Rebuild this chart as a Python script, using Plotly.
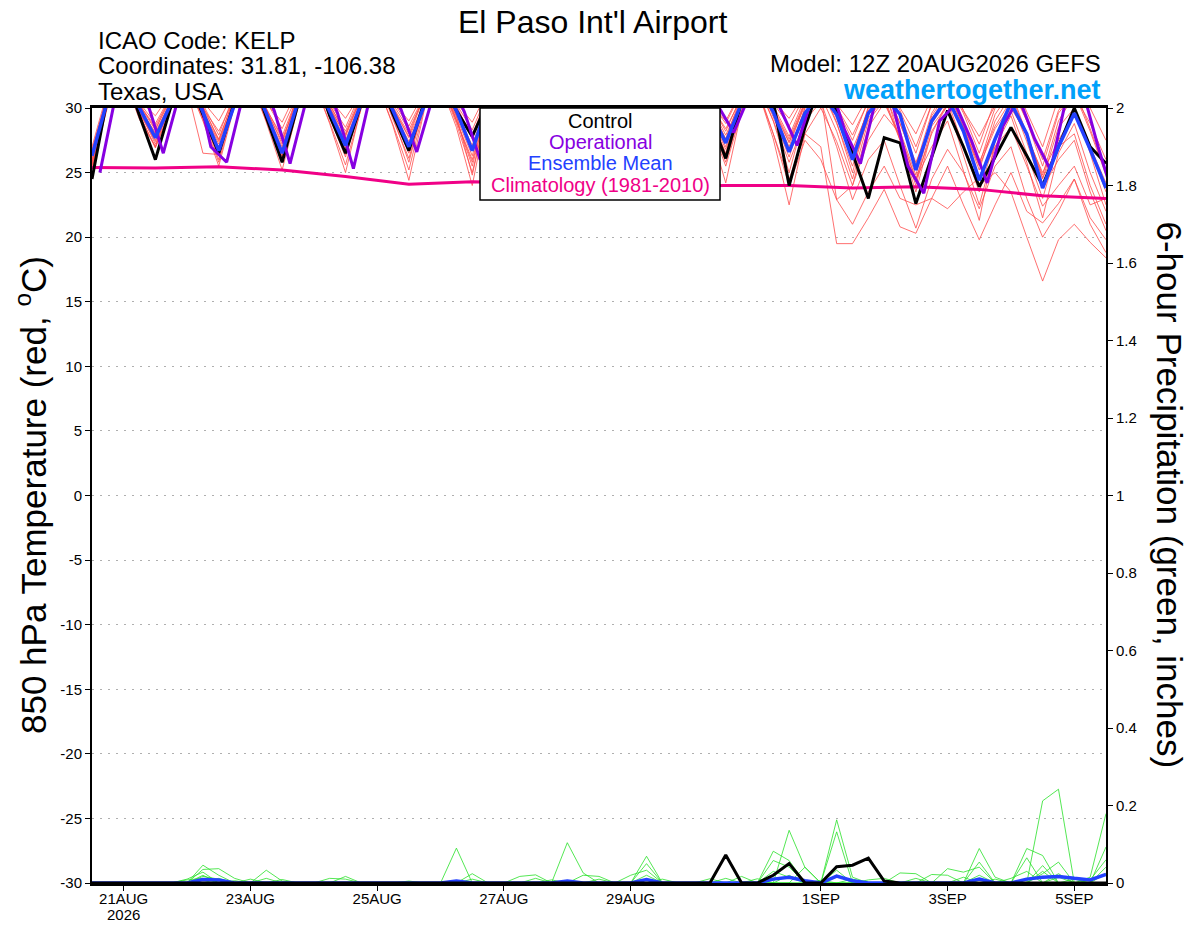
import pandas as pd
import plotly.graph_objects as go

# GEFS 12Z 20AUG2026, 6-hourly steps out to 16 days
times = pd.date_range("2026-08-20 12:00", periods=65, freq="6h")
times_oper = pd.date_range("2026-08-20 15:00", periods=65, freq="6h")  # operational run is offset by 3h
times_clim = pd.date_range("2026-08-20 12:00", periods=17, freq="D")

tick_dates = ["2026-08-21", "2026-08-23", "2026-08-25", "2026-08-27",
              "2026-08-29", "2026-09-01", "2026-09-03", "2026-09-05"]
tick_labels = ["21AUG", "23AUG", "25AUG", "27AUG", "29AUG", "1SEP", "3SEP", "5SEP"]
year_label = "2026"
temp_ticks = [-30, -25, -20, -15, -10, -5, 0, 5, 10, 15, 20, 25, 30]
precip_ticks = [0, 0.2, 0.4, 0.6, 0.8, 1, 1.2, 1.4, 1.6, 1.8, 2]

# 850 hPa temperature (C)
t_control = [
    24.5, 31.0, 33.0, 29.4, 26.0, 30.2, 32.5, 29.5, 26.5, 30.5, 32.8, 29.3, 25.8,
    30.3, 33.0, 29.4, 26.5, 30.4, 32.6, 29.5, 26.7, 30.6, 32.5, 29.8, 27.8, 30.5, 32.4, 29.5, 26.8,
    30.6, 32.6, 29.4, 26.5, 30.4, 32.5, 29.6, 26.6, 30.5, 32.2, 29.3, 26.1, 30.5, 32.5, 30.5, 24.0,
    28.5, 32.0, 29.8, 26.5, 23.0, 27.7, 27.3, 22.6, 26.2, 29.8, 27.0, 23.9, 26.2, 28.5, 26.3, 24.0,
    27.0, 30.0, 27.0, 25.7,
]
t_oper = [
    25.0, 31.0, 32.8, 30.4, 26.5, 31.0, 32.5, 27.0, 25.8, 30.8, 32.6, 29.8, 25.7,
    30.5, 32.8, 29.6, 25.3, 30.6, 32.5, 29.9, 26.6, 30.8, 32.4, 29.7, 26.0, 30.6, 32.6, 29.8, 26.5,
    30.5, 32.5, 29.9, 26.4, 30.6, 32.4, 29.6, 26.8, 30.7, 32.6, 30.2, 28.1, 31.0, 32.5, 29.8, 27.1,
    31.0, 32.2, 28.3, 25.7, 30.8, 30.5, 25.5, 23.4, 29.0, 30.3, 27.5, 24.2, 28.6, 30.8, 27.6, 25.2,
    30.8, 31.5, 27.0, 23.0,
]
t_mean = [
    26.3, 30.7, 32.5, 30.0, 27.7, 30.4, 32.3, 29.7, 26.7, 30.3, 32.4, 29.6, 26.5,
    30.5, 32.4, 29.8, 27.1, 30.4, 32.3, 29.8, 27.0, 30.3, 32.2, 29.8, 26.7, 30.4, 32.1, 29.8, 27.0,
    30.3, 32.0, 29.7, 27.0, 30.4, 32.1, 29.8, 27.1, 30.4, 32.0, 29.8, 27.3, 30.4, 31.9, 29.7, 26.6,
    29.6, 31.2, 29.5, 26.0, 29.6, 31.0, 29.5, 25.2, 29.0, 30.8, 28.2, 24.4, 27.6, 30.4, 28.0, 23.8,
    27.0, 29.6, 26.8, 23.8,
]
t_clim = [25.4, 25.35, 25.45, 25.2, 24.7, 24.1, 24.3, 24.2, 24.0,
          23.95, 24.0, 24.0, 23.8, 23.9, 23.7, 23.2, 23.0]

t_mem01 = [
    25.8, 30.6, 32.6, 29.8, 27.2, 30.2, 32.4, 29.4, 26.0, 30.6, 32.8, 29.2, 25.8,
    30.4, 32.5, 29.6, 26.4, 30.1, 32.2, 29.3, 25.8, 30.5, 32.4, 29.1, 25.5, 30.3, 32.0, 29.5, 26.5,
    30.6, 32.3, 29.7, 26.8, 30.2, 32.1, 29.2, 26.0, 30.4, 32.5, 29.4, 26.5, 30.1, 31.8, 29.0, 25.0,
    29.5, 31.0, 28.2, 24.5, 29.0, 30.6, 27.5, 23.5, 28.2, 30.2, 26.4, 22.5, 27.0, 29.4, 25.8, 21.5,
    26.5, 28.8, 25.0, 22.0,
]
t_mem02 = [
    26.8, 31.0, 33.2, 30.2, 28.3, 30.8, 32.8, 30.1, 27.5, 30.9, 33.0, 29.9, 27.2,
    31.1, 33.1, 30.3, 28.0, 30.9, 32.9, 30.0, 27.8, 31.0, 32.8, 30.2, 27.6, 31.2, 33.0, 30.3, 27.8,
    30.8, 32.7, 29.9, 27.5, 31.0, 32.9, 30.1, 27.9, 31.1, 33.0, 30.4, 28.2, 31.0, 32.8, 30.2, 27.8,
    30.8, 32.5, 30.0, 27.5, 30.6, 32.4, 29.8, 27.0, 30.3, 32.0, 29.6, 26.5, 30.0, 31.6, 29.0, 25.5,
    29.6, 31.2, 28.2, 24.8,
]
t_mem03 = [
    25.2, 30.3, 32.3, 29.5, 26.9, 30.0, 32.0, 29.0, 25.5, 30.2, 32.2, 28.9, 25.2,
    30.0, 32.1, 28.8, 25.0, 30.1, 31.9, 28.6, 24.4, 30.0, 31.8, 28.5, 24.0, 30.2, 32.0, 28.9, 25.0,
    30.4, 32.2, 29.0, 25.5, 30.2, 32.0, 29.1, 25.3, 30.0, 31.9, 28.4, 24.2, 29.8, 31.5, 27.6, 22.5,
    28.0, 30.0, 27.4, 24.0, 28.5, 30.4, 27.8, 24.5, 27.0, 29.0, 25.2, 21.3, 27.5, 30.0, 28.0, 24.8,
    29.0, 31.0, 28.8, 26.0,
]
t_mem04 = [
    26.5, 31.2, 33.4, 30.4, 28.8, 31.0, 33.2, 30.3, 27.9, 31.2, 33.3, 30.5, 28.4,
    31.1, 33.2, 30.4, 28.5, 31.3, 33.4, 30.5, 28.6, 31.0, 33.1, 30.3, 28.3, 31.2, 33.3, 30.6, 28.6,
    31.3, 33.2, 30.5, 28.7, 31.4, 33.3, 30.6, 28.9, 31.2, 33.2, 30.5, 28.8, 31.3, 33.1, 30.4, 28.6,
    31.0, 32.8, 30.1, 27.9, 30.5, 32.2, 29.4, 26.5, 30.3, 32.4, 29.8, 27.2, 30.6, 32.6, 29.7, 27.0,
    30.8, 32.5, 30.0, 27.5,
]
t_mem05 = [
    25.6, 30.4, 32.4, 29.7, 27.5, 30.3, 32.3, 29.4, 26.4, 30.1, 32.1, 29.0, 26.0,
    30.5, 32.6, 29.8, 26.9, 30.2, 32.2, 29.5, 26.5, 30.2, 32.0, 28.8, 25.0, 30.1, 32.1, 29.2, 26.2,
    30.0, 31.9, 29.0, 26.0, 30.3, 32.2, 29.5, 26.6, 30.1, 31.8, 28.8, 25.5, 29.7, 31.4, 28.0, 24.5,
    28.0, 27.0, 19.5, 19.5, 21.5, 23.7, 20.8, 20.3, 23.0, 25.5, 22.5, 19.8, 22.5, 25.0, 22.0, 21.1,
    22.6, 24.5, 21.5, 19.8,
]
t_mem06 = [
    27.0, 31.4, 33.5, 30.6, 29.4, 31.2, 33.4, 30.5, 29.0, 31.3, 33.3, 30.4, 28.9,
    31.5, 33.5, 30.7, 29.2, 31.2, 33.2, 30.5, 29.0, 31.3, 33.4, 30.4, 28.9, 31.4, 33.3, 30.6, 29.2,
    31.2, 33.1, 30.5, 29.0, 31.5, 33.4, 30.8, 29.3, 31.3, 33.2, 30.4, 29.0, 31.4, 33.3, 30.6, 29.2,
    31.2, 33.0, 30.3, 28.7, 31.0, 32.8, 30.0, 28.0, 30.8, 32.6, 29.8, 27.8, 30.2, 32.0, 29.0, 26.0,
    29.8, 31.5, 28.4, 25.0,
]
t_mem07 = [
    25.9, 30.7, 32.8, 29.9, 27.8, 30.5, 32.5, 29.6, 26.9, 30.4, 32.6, 29.5, 26.8,
    30.8, 32.9, 30.0, 27.5, 30.6, 32.7, 29.8, 27.4, 30.4, 32.5, 29.5, 26.8, 30.5, 32.6, 29.7, 27.0,
    30.6, 32.4, 29.8, 27.2, 30.7, 32.7, 29.9, 27.4, 30.8, 32.8, 30.0, 27.6, 30.4, 32.2, 29.3, 26.2,
    30.0, 31.6, 28.8, 25.5, 29.2, 30.8, 27.6, 24.0, 28.6, 30.2, 27.0, 24.0, 25.0, 23.5, 20.0, 16.6,
    19.8, 21.0, 19.6, 18.4,
]
t_mem08 = [
    26.0, 30.8, 32.9, 30.1, 28.0, 30.6, 32.7, 29.8, 27.2, 30.7, 32.8, 30.0, 27.6,
    30.6, 32.8, 30.1, 27.8, 30.8, 32.9, 30.0, 27.7, 30.5, 32.6, 29.7, 27.1, 30.7, 32.7, 29.9, 27.4,
    30.8, 32.8, 30.0, 27.6, 30.5, 32.5, 29.7, 27.1, 30.9, 32.9, 30.2, 27.9, 30.6, 32.5, 29.8, 27.0,
    30.4, 32.2, 29.6, 26.8, 29.8, 31.6, 28.8, 25.8, 28.8, 30.6, 27.0, 23.5, 27.5, 29.8, 26.5, 23.0,
    27.2, 29.5, 26.8, 23.5,
]
t_mem09 = [
    25.5, 30.5, 32.5, 29.6, 27.4, 30.2, 32.2, 29.3, 26.3, 30.3, 32.4, 29.2, 26.2,
    30.4, 32.5, 29.5, 26.7, 30.2, 32.3, 29.1, 26.1, 30.3, 32.2, 29.0, 26.0, 30.4, 32.4, 29.6, 26.8,
    30.3, 32.3, 29.4, 26.4, 30.2, 32.2, 29.3, 26.3, 30.5, 32.4, 29.5, 26.8, 30.2, 32.0, 29.0, 25.8,
    29.0, 30.5, 27.0, 22.9, 26.0, 27.5, 24.0, 20.7, 24.5, 26.8, 25.0, 22.2, 25.5, 27.0, 23.0, 20.0,
    22.0, 24.5, 21.0, 18.8,
]
t_mem10 = [
    26.2, 31.0, 33.0, 30.2, 28.6, 30.9, 33.0, 30.0, 28.2, 30.8, 32.9, 29.9, 27.8,
    31.0, 33.1, 30.2, 28.2, 31.1, 33.0, 30.3, 28.3, 30.9, 32.9, 30.0, 27.9, 31.0, 33.0, 30.2, 28.2,
    31.1, 33.1, 30.3, 28.3, 31.2, 33.2, 30.4, 28.5, 31.0, 33.0, 30.3, 28.4, 30.8, 32.7, 29.9, 27.4,
    30.4, 32.2, 29.4, 26.4, 30.0, 31.8, 28.8, 25.6, 29.6, 31.5, 28.5, 25.2, 29.0, 31.0, 28.0, 24.6,
    27.0, 28.0, 24.0, 21.0,
]
t_mem11 = [
    25.3, 30.2, 32.2, 29.4, 27.0, 30.0, 32.1, 29.1, 25.8, 30.3, 32.3, 29.3, 26.3,
    30.1, 32.0, 28.9, 25.6, 30.0, 31.9, 28.7, 25.2, 30.2, 32.1, 29.0, 25.8, 30.1, 32.0, 28.9, 25.8,
    30.3, 32.2, 29.2, 26.2, 30.1, 32.0, 28.9, 25.8, 30.2, 32.1, 29.0, 25.8, 29.9, 31.6, 28.0, 24.0,
    27.5, 26.0, 22.9, 21.0, 23.5, 25.5, 23.0, 22.5, 23.0, 22.2, 23.5, 24.6, 27.0, 28.5, 25.5, 22.4,
    24.0, 25.5, 22.5, 23.0,
]
t_mem12 = [
    26.4, 30.8, 32.7, 30.0, 28.1, 30.6, 32.6, 29.8, 27.4, 30.5, 32.5, 29.6, 27.0,
    30.7, 32.6, 29.8, 27.3, 30.6, 32.5, 29.7, 27.1, 30.4, 32.3, 29.3, 26.3, 30.8, 32.8, 30.0, 27.6,
    30.9, 32.9, 30.1, 27.8, 30.8, 32.8, 30.0, 27.7, 30.6, 32.5, 29.7, 27.0, 30.5, 32.4, 29.6, 26.6,
    30.0, 31.8, 28.9, 25.0, 29.5, 31.2, 28.2, 24.8, 29.4, 31.2, 28.6, 25.8, 28.6, 30.6, 27.4, 23.8,
    26.0, 27.5, 23.5, 20.5,
]
t_mem13 = [
    25.7, 30.5, 32.4, 29.1, 27.0, 30.7, 31.5, 26.5, 26.4, 30.4, 32.3, 29.5, 26.6,
    30.3, 32.2, 29.3, 26.2, 30.5, 32.4, 29.6, 26.9, 30.6, 32.5, 29.4, 24.8, 30.3, 32.2, 29.3, 26.1,
    30.5, 32.4, 29.5, 26.7, 30.6, 32.5, 29.7, 26.9, 30.4, 32.3, 29.5, 26.4, 30.8, 32.6, 29.9, 27.3,
    30.2, 32.0, 29.2, 26.1, 30.1, 31.5, 27.5, 24.3, 29.2, 31.0, 28.3, 25.6, 29.5, 31.3, 28.0, 24.5,
    28.5, 30.0, 26.5, 22.5,
]
t_mem14 = [
    26.6, 31.1, 33.1, 30.3, 28.4, 30.9, 32.9, 30.0, 27.6, 30.8, 32.9, 29.8, 27.4,
    31.0, 33.0, 30.0, 27.9, 30.9, 32.8, 30.1, 28.0, 31.1, 33.0, 30.0, 27.8, 30.9, 32.9, 29.8, 27.3,
    31.0, 33.0, 30.0, 27.9, 30.9, 32.8, 29.9, 27.5, 31.2, 33.1, 30.1, 27.6, 31.0, 32.9, 30.0, 27.6,
    30.5, 31.0, 22.9, 24.0, 27.5, 29.5, 28.0, 24.5, 28.0, 30.5, 28.5, 25.5, 28.4, 30.2, 27.8, 25.0,
    27.5, 29.6, 27.0, 24.2,
]

# 6-hour precipitation (inches)
p_control = [
    0, 0, 0, 0, 0, 0, 0, 0, 0, 0, 0, 0, 0,
    0, 0, 0, 0, 0, 0, 0, 0, 0, 0, 0, 0, 0,
    0, 0, 0, 0, 0, 0, 0, 0, 0, 0, 0, 0, 0,
    0, 0.072, 0, 0, 0.02, 0.05, 0, 0, 0.042, 0.046, 0.064, 0.005, 0,
    0, 0, 0, 0, 0, 0, 0, 0, 0, 0, 0, 0, 0,
]
p_mean = [
    0, 0, 0, 0, 0, 0, 0, 0.009, 0.008, 0, 0, 0, 0,
    0, 0, 0, 0, 0, 0, 0, 0, 0, 0, 0.005, 0, 0,
    0, 0, 0, 0, 0.005, 0, 0, 0, 0, 0.009, 0, 0, 0,
    0, 0, 0, 0, 0.01, 0.015, 0.006, 0, 0.018, 0.006, 0, 0, 0,
    0, 0, 0, 0, 0.01, 0, 0, 0.01, 0.015, 0.017, 0.012, 0.008, 0.022,
]
p_mem01 = [
    0, 0, 0, 0, 0, 0, 0, 0.046, 0.02, 0, 0, 0.033, 0.005,
    0, 0, 0, 0, 0, 0, 0, 0, 0, 0, 0.09, 0, 0,
    0, 0, 0, 0, 0.104, 0.026, 0, 0, 0, 0, 0, 0, 0,
    0, 0, 0, 0, 0, 0.136, 0.04, 0, 0, 0, 0, 0, 0,
    0, 0, 0, 0, 0, 0, 0, 0, 0.212, 0.242, 0, 0, 0,
]
p_mem02 = [
    0, 0, 0, 0, 0, 0, 0, 0.035, 0.037, 0.012, 0, 0, 0,
    0, 0, 0, 0.017, 0, 0, 0, 0, 0, 0, 0, 0, 0,
    0, 0.017, 0.021, 0, 0, 0, 0, 0, 0, 0.069, 0, 0, 0,
    0, 0, 0, 0, 0, 0, 0, 0, 0.163, 0.015, 0, 0, 0,
    0, 0, 0, 0, 0.089, 0.015, 0, 0, 0, 0, 0, 0.015, 0.179,
]
p_mem03 = [
    0, 0, 0, 0, 0, 0, 0.01, 0.028, 0, 0, 0, 0.012, 0,
    0, 0, 0, 0, 0, 0, 0, 0, 0, 0, 0, 0.024, 0,
    0, 0, 0, 0, 0, 0.02, 0.017, 0, 0, 0, 0, 0, 0,
    0, 0, 0, 0, 0.082, 0.058, 0, 0, 0.132, 0, 0, 0, 0,
    0, 0, 0, 0, 0, 0, 0, 0.089, 0.071, 0, 0, 0, 0.093,
]
p_mem04 = [
    0, 0, 0, 0, 0, 0, 0, 0.017, 0.01, 0, 0, 0, 0.009,
    0, 0, 0, 0, 0, 0, 0, 0, 0, 0, 0, 0, 0,
    0, 0, 0, 0, 0, 0, 0, 0, 0, 0.05, 0, 0, 0,
    0, 0, 0.017, 0, 0.058, 0.041, 0, 0, 0, 0, 0, 0, 0.026,
    0.024, 0, 0, 0, 0.054, 0, 0, 0, 0.024, 0.054, 0, 0, 0.041,
]
p_mem05 = [
    0, 0, 0, 0, 0, 0, 0, 0.02, 0, 0, 0, 0, 0,
    0, 0, 0, 0, 0, 0, 0, 0.005, 0, 0, 0, 0, 0,
    0, 0, 0, 0, 0, 0, 0, 0, 0.02, 0.033, 0, 0, 0,
    0.011, 0, 0, 0.011, 0, 0, 0.041, 0, 0.033, 0, 0, 0, 0,
    0, 0, 0.037, 0.028, 0.041, 0, 0, 0.065, 0, 0.024, 0, 0, 0,
]
p_mem06 = [
    0, 0, 0, 0, 0, 0, 0, 0, 0.012, 0, 0.01, 0, 0,
    0, 0, 0.012, 0.01, 0, 0, 0, 0, 0, 0, 0, 0, 0,
    0, 0, 0, 0.008, 0, 0, 0, 0, 0, 0, 0, 0, 0,
    0, 0.012, 0, 0, 0, 0, 0, 0.007, 0, 0.01, 0, 0, 0,
    0, 0.022, 0.02, 0, 0, 0.01, 0, 0, 0.03, 0, 0, 0.008, 0.06,
]
p_mem07 = [
    0, 0, 0, 0, 0, 0, 0.008, 0.012, 0, 0, 0, 0, 0,
    0, 0, 0, 0, 0, 0, 0, 0, 0, 0, 0, 0.01, 0,
    0, 0, 0.012, 0, 0, 0, 0.01, 0, 0, 0, 0.01, 0, 0,
    0, 0, 0, 0, 0, 0.02, 0, 0, 0, 0, 0.008, 0.012, 0,
    0, 0, 0, 0.015, 0, 0, 0.012, 0.03, 0, 0.015, 0, 0, 0,
]
p_mem08 = [
    0, 0, 0, 0, 0, 0, 0, 0, 0, 0.006, 0, 0, 0,
    0, 0, 0, 0, 0, 0, 0, 0, 0, 0, 0.005, 0, 0,
    0, 0, 0, 0, 0, 0, 0, 0, 0, 0.02, 0, 0, 0,
    0, 0, 0, 0, 0.03, 0.015, 0, 0, 0.02, 0, 0, 0, 0,
    0.012, 0, 0, 0, 0.02, 0, 0, 0, 0.045, 0, 0.01, 0, 0.025,
]

temp_members = [t_mem01, t_mem02, t_mem03, t_mem04, t_mem05, t_mem06, t_mem07,
                t_mem08, t_mem09, t_mem10, t_mem11, t_mem12, t_mem13, t_mem14]
precip_members = [p_mem01, p_mem02, p_mem03, p_mem04, p_mem05, p_mem06, p_mem07, p_mem08]

for serie in temp_members + precip_members + [t_control, t_oper, t_mean, p_control, p_mean]:
    assert len(serie) == 65, len(serie)

RED = "rgb(255,75,75)"
GREEN = "rgb(40,225,40)"
PURPLE = "rgb(135,0,225)"
BLUE = "rgb(35,65,255)"
PINK = "rgb(240,0,135)"
FONTE = "Liberation Sans, Arial, sans-serif"

fig = go.Figure()

for serie in precip_members:
    fig.add_trace(go.Scatter(x=times, y=serie, yaxis="y2", mode="lines",
                             line=dict(color=GREEN, width=0.8)))
fig.add_trace(go.Scatter(x=times, y=p_mean, yaxis="y2", mode="lines",
                         line=dict(color=BLUE, width=3.5)))
fig.add_trace(go.Scatter(x=times, y=p_control, yaxis="y2", mode="lines",
                         line=dict(color="black", width=3)))

for serie in temp_members:
    fig.add_trace(go.Scatter(x=times, y=serie, mode="lines",
                             line=dict(color=RED, width=0.8)))
fig.add_trace(go.Scatter(x=times_clim, y=t_clim, mode="lines",
                         line=dict(color=PINK, width=3)))
fig.add_trace(go.Scatter(x=times, y=t_control, mode="lines",
                         line=dict(color="black", width=3)))
fig.add_trace(go.Scatter(x=times_oper, y=t_oper, mode="lines",
                         line=dict(color=PURPLE, width=3)))
fig.add_trace(go.Scatter(x=times, y=t_mean, mode="lines",
                         line=dict(color=BLUE, width=3.5)))


def px_x(px):
    # page pixel -> paper coords, plot area 92..1106
    return (px - 92) / 1014


def px_y(py):
    # page pixel -> paper coords, plot area 108..883
    return (883 - py) / 775


anotacoes = [
    dict(text="El Paso Int'l Airport", x=px_x(592), y=px_y(22), size=32, color="black"),
    dict(text="ICAO Code: KELP", x=px_x(97), y=px_y(40), size=24, color="black", xanchor="left"),
    dict(text="Coordinates: 31.81, -106.38", x=px_x(97), y=px_y(66), size=24, color="black", xanchor="left"),
    dict(text="Texas, USA", x=px_x(97), y=px_y(92), size=24, color="black", xanchor="left"),
    dict(text="Model: 12Z 20AUG2026 GEFS", x=px_x(1102), y=px_y(64), size=24, color="black", xanchor="right"),
    dict(text="<b>weathertogether.net</b>", x=px_x(1102), y=px_y(90), size=27, color="rgb(0,160,250)", xanchor="right"),
    dict(text="Control", x=px_x(600), y=px_y(121), size=20, color="black"),
    dict(text="Operational", x=px_x(600), y=px_y(142), size=20, color=PURPLE),
    dict(text="Ensemble Mean", x=px_x(600), y=px_y(163), size=20, color=BLUE),
    dict(text="Climatology (1981-2010)", x=px_x(600), y=px_y(185), size=20, color=PINK),
]
for a in anotacoes:
    fig.add_annotation(text=a["text"], x=a["x"], y=a["y"], xref="paper", yref="paper",
                       xanchor=a.get("xanchor", "center"), yanchor="middle", showarrow=False,
                       borderpad=0, font=dict(family=FONTE, size=a["size"], color=a["color"]))

# year under the first date label
fig.add_annotation(text=year_label, x=tick_dates[0], y=px_y(914), xref="x", yref="paper",
                   xanchor="center", yanchor="middle", showarrow=False, borderpad=0,
                   font=dict(family=FONTE, size=15, color="black"))

# rotated axis titles (plotly shifts rotated boxes toward the plot, so placed a bit outward)
fig.add_annotation(text="850 hPa Temperature (red, <sup>o</sup>C)", x=px_x(7), y=px_y(495),
                   xref="paper", yref="paper", textangle=-90, showarrow=False,
                   font=dict(family=FONTE, size=35, color="black"))
fig.add_annotation(text="6-hour Precipitation (green, inches)", x=px_x(1191), y=px_y(495),
                   xref="paper", yref="paper", textangle=90, showarrow=False,
                   font=dict(family=FONTE, size=35, color="black"))

# legend box
fig.add_shape(type="rect", xref="paper", yref="paper",
              x0=px_x(480), x1=px_x(720), y0=px_y(200), y1=px_y(108),
              fillcolor="white", line=dict(color="black", width=1.5), layer="above")

# page has an 8px body margin, so margins are shifted by 8px
fig.update_layout(
    width=1184, height=917,
    margin=dict(l=84, r=86, t=100, b=42),
    paper_bgcolor="white", plot_bgcolor="white",
    showlegend=False, hovermode=False,
    font=dict(family=FONTE, size=15, color="black"),
    xaxis=dict(range=["2026-08-20 12:00", "2026-09-05 12:00"],
               tickvals=tick_dates, ticktext=tick_labels, automargin=False,
               ticks="outside", ticklen=5, tickcolor="black", ticklabelstandoff=-5,
               showgrid=False, showline=True, linecolor="black", linewidth=2.5, mirror=True,
               tickfont=dict(size=15)),
    yaxis=dict(range=[-30, 30], tickvals=temp_ticks, ticktext=[str(v) for v in temp_ticks],
               automargin=False, ticks="outside", ticklen=5, tickcolor="black",
               showgrid=True, gridcolor="rgb(175,175,175)", griddash="2px,6px", gridwidth=1,
               zeroline=False, showline=True, linecolor="black", linewidth=2,
               tickfont=dict(size=15)),
    yaxis2=dict(range=[0, 2], tickvals=precip_ticks, ticktext=[f"{v:g}" for v in precip_ticks],
                overlaying="y", side="right", automargin=False,
                ticks="outside", ticklen=5, tickcolor="black",
                showgrid=False, zeroline=False, showline=True, linecolor="black", linewidth=2,
                tickfont=dict(size=15)),
)

fig.write_html("out.html")
